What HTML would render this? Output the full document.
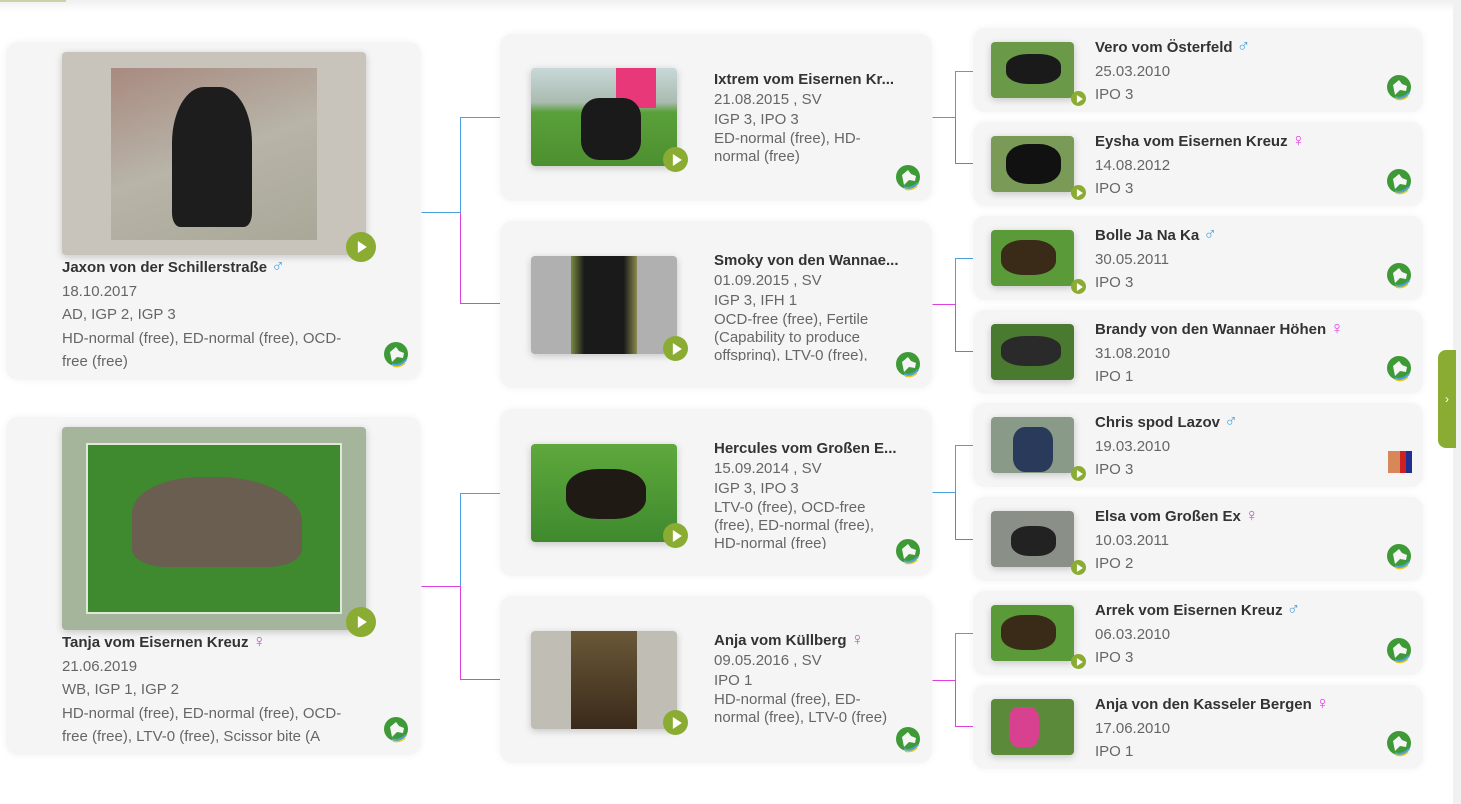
<!DOCTYPE html>
<html><head><meta charset="utf-8"><style>
*{margin:0;padding:0;box-sizing:border-box}
body{width:1461px;height:804px;background:#fff;position:relative;overflow:hidden;font-family:"Liberation Sans",sans-serif;color:#666}
.a{position:absolute}
.card{position:absolute;background:#f5f5f5;border-radius:12px;box-shadow:0 0 8px rgba(0,0,0,0.05)}
.img{position:absolute;border-radius:4px;overflow:hidden;box-shadow:0 2px 8px rgba(0,0,0,0.2)}
.play{position:absolute;border-radius:50%;background:#8aac32;}
.play:after{content:"";position:absolute;left:50%;top:50%;border-left:9px solid #fff;border-top:6px solid transparent;border-bottom:6px solid transparent;transform:translate(-35%,-50%)}
.sm:after{border-left:6px solid #fff;border-top:4px solid transparent;border-bottom:4px solid transparent}
.nm{font-weight:bold;color:#333;white-space:nowrap}
.t{position:absolute;font-size:15px;line-height:23.5px}
.t2{position:absolute;font-size:15px;line-height:20px;width:190px}
.t2 .w{line-height:18px}
.m{color:#4aa3df;font-weight:normal;font-size:18px;line-height:10px}.f{color:#e040e0;font-weight:normal;font-size:18px;line-height:10px}
.logo{position:absolute;width:26px;height:26px}
</style></head><body>
<div class="a" style="left:0;top:0;width:1461px;height:12px;background:linear-gradient(#f0f0f0,#fff)"></div>
<div class="a" style="left:0;top:0;width:66px;height:2px;background:#c8d4a8"></div>
<div class="a" style="left:1453px;top:0;width:8px;height:804px;background:#f1f1f1"></div>
<div class="a" style="left:1438px;top:350px;width:18px;height:98px;background:#8aac32;border-radius:8px 0 0 8px;color:#fff;font-size:12px;line-height:98px;text-align:center">›</div>

<svg class="a" style="left:0;top:0" width="1461" height="804">
<g fill="none" stroke-width="1" transform="translate(0.5,0.5)">
<path d="M421 212H460V117H500" stroke="#4aa3df"/><path d="M460 212V303H500" stroke="#e040e0"/>
<path d="M421 586H460V493H500" stroke="#4aa3df"/><path d="M421 586H460V679H500" stroke="#e040e0"/>
<path d="M932 117H955V71H973" stroke="#4aa3df"/><path d="M955 117V163H973" stroke="#e040e0"/>
<path d="M932 304H955V258H973" stroke="#4aa3df"/><path d="M932 304H955V351H973" stroke="#e040e0"/>
<path d="M932 492H955V445H973" stroke="#4aa3df"/><path d="M955 492V539H973" stroke="#e040e0"/>
<path d="M932 680H955V633H973" stroke="#4aa3df"/><path d="M932 680H955V726H973" stroke="#e040e0"/>
</g>
<defs><g id="lg"><circle cx="13" cy="12" r="12" fill="#3d9a36"/><path d="M7 10 L13 5 L16 9 L21 11 L20 16 L14 15 L9 20Z" fill="#f5f5f5"/><path d="M9 22 Q16 25 23 18" stroke="#4aa3df" stroke-width="2" fill="none"/><path d="M10 24 Q17 26 22 21" stroke="#e8c820" stroke-width="1.5" fill="none"/></g></defs>
</svg>

<!-- col1 card1 -->
<div class="card" style="left:6px;top:42px;width:415px;height:338px"></div>
<div class="img" style="left:62px;top:52px;width:304px;height:203px;background:#c9c4bb">
 <div class="a" style="left:49px;top:16px;width:206px;height:172px;background:linear-gradient(160deg,#a88a80,#b8b4a8 50%,#a9a898)"></div>
 <div class="a" style="left:110px;top:35px;width:80px;height:140px;background:#1d1d1d;border-radius:40% 40% 10% 10%"></div>
</div>
<div class="play" style="left:346px;top:232px;width:30px;height:30px"></div>
<div class="t" style="left:62px;top:256px"><div class="nm">Jaxon von der Schillerstraße <span class="m">♂</span></div>18.10.2017<br>AD, IGP 2, IGP 3<br>HD-normal (free), ED-normal (free), OCD-<br>free (free)</div>
<svg class="logo" style="left:383px;top:342px"><use href="#lg"/></svg>

<!-- col1 card2 -->
<div class="card" style="left:6px;top:417px;width:415px;height:338px"></div>
<div class="img" style="left:62px;top:427px;width:304px;height:203px;background:#a5b59c">
 <div class="a" style="left:24px;top:16px;width:256px;height:171px;background:#3f8a2e;border:2px solid #dfe8d8"></div>
 <div class="a" style="left:70px;top:50px;width:170px;height:90px;background:#6a5e50;border-radius:40% 50% 20% 20%"></div>
</div>
<div class="play" style="left:346px;top:607px;width:30px;height:30px"></div>
<div class="t" style="left:62px;top:631px"><div class="nm">Tanja vom Eisernen Kreuz <span class="f">♀</span></div>21.06.2019<br>WB, IGP 1, IGP 2<br>HD-normal (free), ED-normal (free), OCD-<br>free (free), LTV-0 (free), Scissor bite (A</div>
<svg class="logo" style="left:383px;top:717px"><use href="#lg"/></svg>

<!-- col2 -->
<div class="card" style="left:500px;top:34px;width:432px;height:167px"></div>
<div class="img" style="left:531px;top:68px;width:146px;height:98px;background:linear-gradient(#c8d8d8 0,#aabbb0 35%,#5aa03a 45%,#4d9030)">
 <div class="a" style="left:85px;top:0;width:40px;height:40px;background:#e8387a"></div>
 <div class="a" style="left:50px;top:30px;width:60px;height:62px;background:#1a1a1a;border-radius:30%"></div></div>
<div class="play" style="left:663px;top:147px;width:25px;height:25px"></div>
<div class="t2" style="left:714px;top:70px"><div class="nm">Ixtrem vom Eisernen Kr...</div>21.08.2015 , SV<br>IGP 3, IPO 3<br><div class="w">ED-normal (free), HD-<br>normal (free)</div></div>
<svg class="logo" style="left:895px;top:165px"><use href="#lg"/></svg>

<div class="card" style="left:500px;top:221px;width:432px;height:167px"></div>
<div class="img" style="left:531px;top:256px;width:146px;height:98px;background:#b0b0b0">
 <div class="a" style="left:40px;top:0;width:66px;height:98px;background:linear-gradient(90deg,#7a8a40,#1a1a1a 20%,#1a1a1a 80%,#8a8a50)"></div></div>
<div class="play" style="left:663px;top:336px;width:25px;height:25px"></div>
<div class="t2" style="left:714px;top:251px;height:110px;overflow:hidden"><div class="nm">Smoky von den Wannae...</div>01.09.2015 , SV<br>IGP 3, IFH 1<br><div class="w">OCD-free (free), Fertile<br>(Capability to produce<br>offspring), LTV-0 (free),</div></div>
<svg class="logo" style="left:895px;top:352px"><use href="#lg"/></svg>

<div class="card" style="left:500px;top:409px;width:432px;height:167px"></div>
<div class="img" style="left:531px;top:444px;width:146px;height:98px;background:linear-gradient(#5ea83c,#3f8a2e)">
 <div class="a" style="left:35px;top:25px;width:80px;height:50px;background:#1f1a14;border-radius:40%"></div></div>
<div class="play" style="left:663px;top:523px;width:25px;height:25px"></div>
<div class="t2" style="left:714px;top:439px;height:110px;overflow:hidden"><div class="nm">Hercules vom Großen E...</div>15.09.2014 , SV<br>IGP 3, IPO 3<br><div class="w">LTV-0 (free), OCD-free<br>(free), ED-normal (free),<br>HD-normal (free)</div></div>
<svg class="logo" style="left:895px;top:539px"><use href="#lg"/></svg>

<div class="card" style="left:500px;top:596px;width:432px;height:167px"></div>
<div class="img" style="left:531px;top:631px;width:146px;height:98px;background:#c0bdb5">
 <div class="a" style="left:40px;top:0;width:66px;height:98px;background:linear-gradient(#6a5838,#3a2a1a)"></div></div>
<div class="play" style="left:663px;top:710px;width:25px;height:25px"></div>
<div class="t2" style="left:714px;top:631px"><div class="nm">Anja vom Küllberg <span class="f">♀</span></div>09.05.2016 , SV<br>IPO 1<br><div class="w">HD-normal (free), ED-<br>normal (free), LTV-0 (free)</div></div>
<svg class="logo" style="left:895px;top:727px"><use href="#lg"/></svg>

<!-- col3 -->
<div class="card" style="left:973px;top:28px;width:450px;height:84px"></div>
<div class="img" style="left:991px;top:42px;width:83px;height:56px;background:#6a9a48"><div class="a" style="left:15px;top:12px;width:55px;height:30px;background:#1a1a1a;border-radius:40%"></div></div>
<div class="play sm" style="left:1071px;top:91px;width:15px;height:15px"></div>
<div class="t" style="left:1095px;top:36px"><div class="nm">Vero vom Österfeld <span class="m">♂</span></div>25.03.2010<br>IPO 3</div>
<svg class="logo" style="left:1386px;top:75px"><use href="#lg"/></svg>

<div class="card" style="left:973px;top:122px;width:450px;height:84px"></div>
<div class="img" style="left:991px;top:136px;width:83px;height:56px;background:#7a9a58"><div class="a" style="left:15px;top:8px;width:55px;height:40px;background:#111;border-radius:40%"></div></div>
<div class="play sm" style="left:1071px;top:185px;width:15px;height:15px"></div>
<div class="t" style="left:1095px;top:130px"><div class="nm">Eysha vom Eisernen Kreuz <span class="f">♀</span></div>14.08.2012<br>IPO 3</div>
<svg class="logo" style="left:1386px;top:169px"><use href="#lg"/></svg>

<div class="card" style="left:973px;top:216px;width:450px;height:84px"></div>
<div class="img" style="left:991px;top:230px;width:83px;height:56px;background:#5a9a38"><div class="a" style="left:10px;top:10px;width:55px;height:35px;background:#3a2a18;border-radius:40%"></div></div>
<div class="play sm" style="left:1071px;top:279px;width:15px;height:15px"></div>
<div class="t" style="left:1095px;top:224px"><div class="nm">Bolle Ja Na Ka <span class="m">♂</span></div>30.05.2011<br>IPO 3</div>
<svg class="logo" style="left:1386px;top:263px"><use href="#lg"/></svg>

<div class="card" style="left:973px;top:310px;width:450px;height:84px"></div>
<div class="img" style="left:991px;top:324px;width:83px;height:56px;background:#4a7a30"><div class="a" style="left:10px;top:12px;width:60px;height:30px;background:#2a2a2a;border-radius:40%"></div></div>
<div class="t" style="left:1095px;top:318px"><div class="nm">Brandy von den Wannaer Höhen <span class="f">♀</span></div>31.08.2010<br>IPO 1</div>
<svg class="logo" style="left:1386px;top:356px"><use href="#lg"/></svg>

<div class="card" style="left:973px;top:403px;width:450px;height:84px"></div>
<div class="img" style="left:991px;top:417px;width:83px;height:56px;background:#8a9a88"><div class="a" style="left:22px;top:10px;width:40px;height:45px;background:#2a3a5a;border-radius:30%"></div></div>
<div class="play sm" style="left:1071px;top:466px;width:15px;height:15px"></div>
<div class="t" style="left:1095px;top:411px"><div class="nm">Chris spod Lazov <span class="m">♂</span></div>19.03.2010<br>IPO 3</div>
<div class="a" style="left:1388px;top:451px;width:24px;height:22px;background:linear-gradient(90deg,#d88858 50%,#d02020 50%,#d02020 75%,#203090 75%)"></div>

<div class="card" style="left:973px;top:497px;width:450px;height:84px"></div>
<div class="img" style="left:991px;top:511px;width:83px;height:56px;background:#8a9088"><div class="a" style="left:20px;top:15px;width:45px;height:30px;background:#222;border-radius:40%"></div></div>
<div class="play sm" style="left:1071px;top:560px;width:15px;height:15px"></div>
<div class="t" style="left:1095px;top:505px"><div class="nm">Elsa vom Großen Ex <span class="f">♀</span></div>10.03.2011<br>IPO 2</div>
<svg class="logo" style="left:1386px;top:544px"><use href="#lg"/></svg>

<div class="card" style="left:973px;top:591px;width:450px;height:84px"></div>
<div class="img" style="left:991px;top:605px;width:83px;height:56px;background:#5a9a38"><div class="a" style="left:10px;top:10px;width:55px;height:35px;background:#3a2a18;border-radius:40%"></div></div>
<div class="play sm" style="left:1071px;top:654px;width:15px;height:15px"></div>
<div class="t" style="left:1095px;top:599px"><div class="nm">Arrek vom Eisernen Kreuz <span class="m">♂</span></div>06.03.2010<br>IPO 3</div>
<svg class="logo" style="left:1386px;top:638px"><use href="#lg"/></svg>

<div class="card" style="left:973px;top:685px;width:450px;height:84px"></div>
<div class="img" style="left:991px;top:699px;width:83px;height:56px;background:#5a8a3a"><div class="a" style="left:18px;top:8px;width:30px;height:40px;background:#d84090;border-radius:30%"></div></div>
<div class="t" style="left:1095px;top:693px"><div class="nm">Anja von den Kasseler Bergen <span class="f">♀</span></div>17.06.2010<br>IPO 1</div>
<svg class="logo" style="left:1386px;top:731px"><use href="#lg"/></svg>
</body></html>
